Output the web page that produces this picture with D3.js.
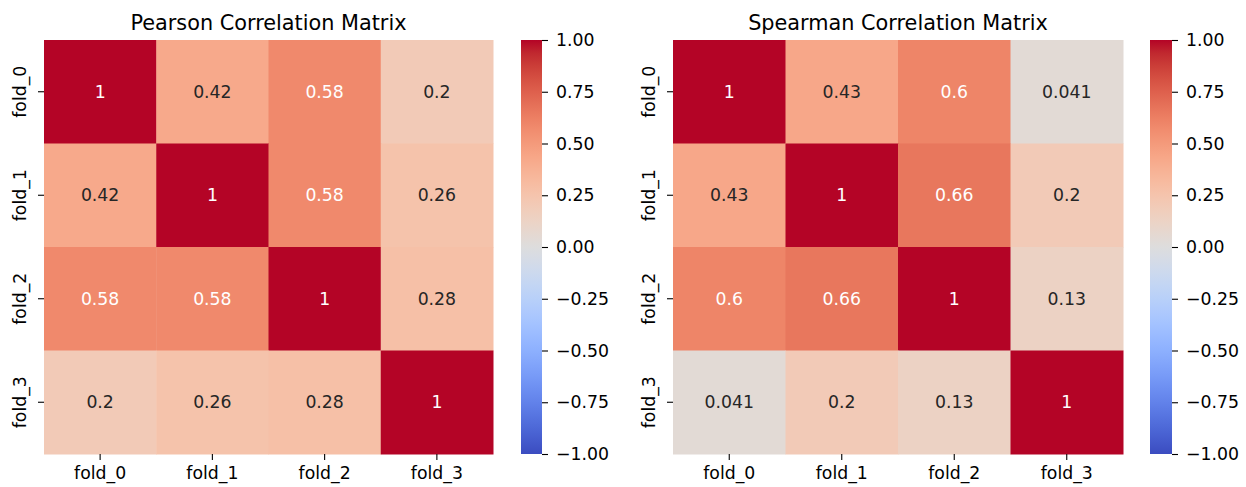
<!DOCTYPE html>
<html><head><meta charset="utf-8">
<script src="https://cdn.jsdelivr.net/npm/d3@7"></script>
<style>body{margin:0;background:#fff;} text{font-family:"DejaVu Sans",sans-serif;}</style>
</head><body><svg id="c" width="1246" height="487"></svg>
<script>
const labels = ["fold_0","fold_1","fold_2","fold_3"];
const pearson = [
  [1, 0.42, 0.58, 0.2],
  [0.42, 1, 0.58, 0.26],
  [0.58, 0.58, 1, 0.28],
  [0.2, 0.26, 0.28, 1]
];
const spearman = [
  [1, 0.43, 0.6, 0.041],
  [0.43, 1, 0.66, 0.2],
  [0.6, 0.66, 1, 0.13],
  [0.041, 0.2, 0.13, 1]
];
const cbTicks = [1, 0.75, 0.5, 0.25, 0, -0.25, -0.5, -0.75, -1];
const titles = ["Pearson Correlation Matrix", "Spearman Correlation Matrix"];

// matplotlib coolwarm (Moreland) control points
const cw = [[59,76,192],[68,90,204],[77,104,215],[87,117,225],[98,130,234],[108,142,241],[119,154,247],[130,165,251],[141,176,254],[152,185,255],[163,194,255],[174,201,253],[184,208,249],[194,213,244],[204,217,238],[213,219,230],[221,221,221],[229,216,209],[236,211,197],[241,204,185],[245,196,173],[247,187,160],[247,177,148],[247,166,135],[244,154,123],[241,141,111],[236,127,99],[229,112,88],[222,96,77],[213,80,66],[203,62,56],[192,40,47],[180,4,38]];
const interp = d3.piecewise(d3.interpolateRgb, cw.map(c => d3.rgb(c[0],c[1],c[2])));
const color = d3.scaleSequential(v => interp(v)).domain([-1, 1]);

function lum(c){
  const r = d3.rgb(c);
  const f = x => { x/=255; return x<=0.03928 ? x/12.92 : Math.pow((x+0.055)/1.055, 2.4); };
  return 0.2126*f(r.r)+0.7152*f(r.g)+0.0722*f(r.b);
}
function fmt(v){ return String(+v.toPrecision(2)); }

const FS = 17.3, TFS = 20.8;
const svg = d3.select("#c");
const defs = svg.append("defs");
const panels = [
  {data: pearson, x0: 44, x1: 493, cb0: 521, cb1: 542},
  {data: spearman, x0: 673, x1: 1123, cb0: 1150, cb1: 1172}
];
const y0 = 40, y1 = 454;

panels.forEach((p, pi) => {
  const g = svg.append("g");
  const x = d3.scaleBand().domain(labels).range([p.x0, p.x1]);
  const y = d3.scaleBand().domain(labels).range([y0, y1]);
  p.data.forEach((row, i) => row.forEach((v, j) => {
    const c = color(v);
    g.append("rect").attr("x", x(labels[j])).attr("y", y(labels[i]))
      .attr("width", x.bandwidth()+0.5).attr("height", y.bandwidth()+0.5).attr("fill", c);
    g.append("text").attr("x", x(labels[j]) + x.bandwidth()/2).attr("y", y(labels[i]) + y.bandwidth()/2)
      .attr("text-anchor","middle").attr("dominant-baseline","central")
      .attr("font-size", FS).attr("fill", lum(c) > 0.408 ? "#262626" : "#ffffff").text(fmt(v));
  }));
  // x axis
  const gx = g.append("g").attr("transform", `translate(0,${y1})`).call(d3.axisBottom(x).tickSize(6));
  gx.select(".domain").remove();
  gx.selectAll(".tick line").attr("stroke","#000").attr("stroke-width",1.1);
  gx.selectAll("text").attr("font-size", FS).attr("fill","#000").attr("font-family","DejaVu Sans")
    .attr("dy", null).attr("y", 25);
  // y axis
  const gy = g.append("g").attr("transform", `translate(${p.x0},0)`).call(d3.axisLeft(y).tickSize(6));
  gy.select(".domain").remove();
  gy.selectAll(".tick line").attr("stroke","#000").attr("stroke-width",1.1);
  gy.selectAll("text").attr("font-size", FS).attr("fill","#000").attr("font-family","DejaVu Sans")
    .attr("text-anchor","middle").attr("dy", null).attr("x", 0).attr("y", 0)
    .attr("transform", "translate(-18.5,0) rotate(-90)");
  // title
  g.append("text").attr("x", (p.x0+p.x1)/2).attr("y", 30).attr("text-anchor","middle")
    .attr("font-size", TFS).attr("fill","#000").text(titles[pi]);
  // colorbar
  const gid = "grad"+pi;
  const lg = defs.append("linearGradient").attr("id", gid).attr("x1",0).attr("y1",1).attr("x2",0).attr("y2",0);
  cw.forEach((c, k) => lg.append("stop").attr("offset", k/(cw.length-1)).attr("stop-color", `rgb(${c[0]},${c[1]},${c[2]})`));
  const cy = d3.scaleLinear().domain([-1, 1]).range([y1, y0]);
  g.append("rect").attr("x", p.cb0).attr("y", y0).attr("width", p.cb1-p.cb0).attr("height", y1-y0).attr("fill", `url(#${gid})`);
  const ca = d3.axisRight(cy).tickValues(cbTicks).tickSize(6).tickPadding(8)
    .tickFormat(v => d3.format(".2f")(v).replace("-", "\u2212"));
  const gc = g.append("g").attr("transform", `translate(${p.cb1},0)`).call(ca);
  gc.select(".domain").remove();
  gc.selectAll(".tick line").attr("stroke","#000").attr("stroke-width",1.1);
  gc.selectAll("text").attr("font-size", FS).attr("fill","#000").attr("font-family","DejaVu Sans");
});
</script></body></html>
